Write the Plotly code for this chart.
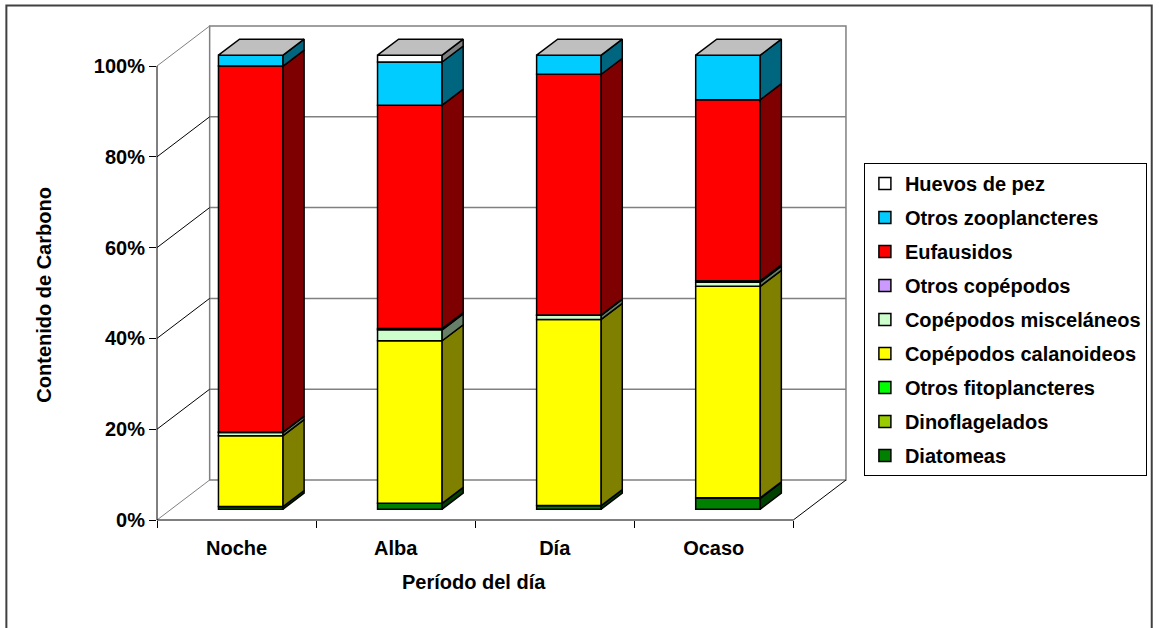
import plotly.graph_objects as go

# --- data: carbon content share (%) by time of day ---
periodos = ["Noche", "Alba", "Día", "Ocaso"]

grupos = [
    "Diatomeas",
    "Dinoflagelados",
    "Otros fitoplancteres",
    "Copépodos calanoideos",
    "Copépodos misceláneos",
    "Otros copépodos",
    "Eufausidos",
    "Otros zooplancteres",
    "Huevos de pez",
]

diatomeas = [0.6, 1.3, 0.8, 2.4]
dinoflagelados = [0.0, 0.0, 0.0, 0.1]
otros_fito = [0.0, 0.0, 0.0, 0.0]
calanoideos = [15.6, 35.8, 41.0, 46.6]
miscelaneos = [0.7, 2.4, 0.9, 0.9]
otros_copepodos = [0.1, 0.3, 0.1, 0.3]
eufausidos = [80.6, 49.2, 53.0, 39.9]
otros_zoo = [2.4, 9.5, 4.2, 9.8]
huevos = [0.0, 1.5, 0.0, 0.0]

series = [diatomeas, dinoflagelados, otros_fito, calanoideos, miscelaneos,
          otros_copepodos, eufausidos, otros_zoo, huevos]

colores = ["#008000", "#99CC00", "#00FF00", "#FFFF00", "#CCFFCC",
           "#CC99FF", "#FF0000", "#00CCFF", "#FFFFFF"]

y_ticks = [0, 20, 40, 60, 80, 100]
y_tick_text = ["0%", "20%", "40%", "60%", "80%", "100%"]

# --- layout geometry ---
W, H = 1159, 628
M_L, M_R, M_T, M_B = 157, 308, 24, 108
PLOT_W = W - M_L - M_R
PLOT_H = H - M_T - M_B
PX_PER_CAT = 160.0
PX_PER_PCT = 4.54
X_RANGE = [-0.5, -0.5 + PLOT_W / PX_PER_CAT]
Y_RANGE = [0.0, PLOT_H / PX_PER_PCT]

# oblique depth of the 3D box (full depth) and of the bars
DX, DY = 0.331, 8.81
BAR_D0 = 0.27          # bar front plane depth fraction
BAR_DEPTH = 0.40       # bar depth fraction
BAR_W = 0.406
bx0, by0 = BAR_D0 * DX, BAR_D0 * DY
sdx, sdy = BAR_DEPTH * DX, BAR_DEPTH * DY

FONT = "Liberation Sans, Arial, sans-serif"


def shade(hex_color, k):
    h = hex_color.lstrip("#")
    r, g, b = (int(h[i:i + 2], 16) for i in (0, 2, 4))
    return "#%02X%02X%02X" % (int(r * k), int(g * k), int(b * k))


def px_(x):
    return (x - X_RANGE[0]) / (X_RANGE[1] - X_RANGE[0])


def py_(y):
    return (y - Y_RANGE[0]) / (Y_RANGE[1] - Y_RANGE[0])


def paper_path(pts, close=True):
    s = "M" + " L".join(f"{px_(x):.5f},{py_(y):.5f}" for x, y in pts)
    return s + (" Z" if close else "")


fig = go.Figure()

xpos = list(range(len(periodos)))
centers = [i + bx0 for i in xpos]

# cumulative bases
bases = []
acc = [0.0] * len(periodos)
for vals in series:
    bases.append(list(acc))
    acc = [a + v for a, v in zip(acc, vals)]
totales = acc

# front faces of the stacked bars (legend lists the top series first)
n_series = len(grupos)
for idx, (name, vals, base, col) in enumerate(zip(grupos, series, bases, colores)):
    fig.add_trace(go.Bar(
        x=centers, y=vals, base=[b + by0 for b in base], width=BAR_W,
        name=name, legendgroup=name, legendrank=n_series - idx,
        marker=dict(color=col, line=dict(color="black", width=1.5)),
        hoverinfo="skip",
    ))

# right side faces of every segment
for name, vals, base, col in zip(grupos, series, bases, colores):
    xs, ys = [], []
    for c, v, b in zip(centers, vals, base):
        if v <= 0:
            continue
        xr = c + BAR_W / 2
        bot, top = b + by0, b + v + by0
        xs += [xr, xr + sdx, xr + sdx, xr, xr, None]
        ys += [bot, bot + sdy, top + sdy, top, bot, None]
    if xs:
        fig.add_trace(go.Scatter(
            x=xs, y=ys, mode="lines", fill="toself", fillcolor=shade(col, 0.5),
            line=dict(color="black", width=1.5), showlegend=False,
            hoverinfo="skip",
        ))

# top faces (shaded from the top series colour)
xs, ys = [], []
for c, t in zip(centers, totales):
    xl, xr = c - BAR_W / 2, c + BAR_W / 2
    top = t + by0
    xs += [xl, xl + sdx, xr + sdx, xr, xl, None]
    ys += [top, top + sdy, top + sdy, top, top, None]
fig.add_trace(go.Scatter(
    x=xs, y=ys, mode="lines", fill="toself", fillcolor=shade(colores[-1], 0.75),
    line=dict(color="black", width=1.5), showlegend=False, hoverinfo="skip",
))

# --- 3D walls and floor ---
x0, x1 = -0.5, len(periodos) - 0.5
grid = "#808080"
shapes = []
# back wall
shapes.append(dict(type="path", xref="paper", yref="paper", layer="below",
                   path=paper_path([(x0 + DX, DY), (x1 + DX, DY),
                                    (x1 + DX, 100 + DY), (x0 + DX, 100 + DY)]),
                   fillcolor="white", line=dict(color=grid, width=1.5)))
for k in y_ticks[1:-1]:
    shapes.append(dict(type="path", xref="paper", yref="paper", layer="below",
                       path=paper_path([(x0 + DX, k + DY), (x1 + DX, k + DY)], False),
                       line=dict(color=grid, width=1.5)))
# side wall diagonals
for k in y_ticks:
    col = grid if k in (0, 100) else "black"
    shapes.append(dict(type="path", xref="paper", yref="paper", layer="below",
                       path=paper_path([(x0, k), (x0 + DX, k + DY)], False),
                       line=dict(color=col, width=1)))
# floor right edge and front edge, value axis line
shapes.append(dict(type="path", xref="paper", yref="paper", layer="below",
                   path=paper_path([(x0, 0), (x1, 0), (x1 + DX, DY)], False),
                   line=dict(color="black", width=1)))
shapes.append(dict(type="path", xref="paper", yref="paper", layer="below",
                   path=paper_path([(x0, 0), (x0, 100)], False),
                   line=dict(color="black", width=1)))
# chart frame
shapes.append(dict(type="rect", xref="paper", yref="paper", layer="below",
                   x0=(5.5 - M_L) / PLOT_W, x1=(1157.5 - M_L) / PLOT_W,
                   y0=-0.4, y1=(H - M_B - 5.5) / PLOT_H,
                   line=dict(color="#404040", width=2), fillcolor="rgba(0,0,0,0)"))

fig.update_layout(
    width=W, height=H,
    margin=dict(l=M_L, r=M_R, t=M_T, b=M_B, pad=0),
    paper_bgcolor="white", plot_bgcolor="rgba(0,0,0,0)",
    barmode="overlay",
    shapes=shapes,
    showlegend=True,
    legend=dict(
        x=(868 - M_L) / PLOT_W, y=(H - M_B - 163) / PLOT_H,
        xanchor="left", yanchor="top",
        traceorder="grouped", tracegroupgap=5,
        bordercolor="black", borderwidth=1, bgcolor="white",
        font=dict(family=FONT, size=20, color="black", weight="bold"),
    ),
    xaxis=dict(
        range=X_RANGE, showgrid=False, zeroline=False, showline=False,
        tickmode="array", tickvals=xpos, ticktext=periodos, ticks="",
        ticklabelstandoff=14,
        tickfont=dict(family=FONT, size=20, color="black", weight="bold"),
        minor=dict(tickmode="array", tickvals=[i - 0.5 for i in range(len(periodos) + 1)],
                   ticks="outside", ticklen=7, tickcolor="black", tickwidth=1,
                   showgrid=False),
        fixedrange=True,
    ),
    yaxis=dict(
        range=Y_RANGE, showgrid=False, zeroline=False, showline=False,
        tickmode="array", tickvals=y_ticks, ticktext=y_tick_text,
        ticks="outside", ticklen=7, tickcolor="black", tickwidth=1,
        tickfont=dict(family=FONT, size=20, color="black", weight="bold"),
        fixedrange=True,
    ),
    annotations=[
        dict(text="Período del día", xref="paper", yref="paper",
             x=(476 - M_L) / PLOT_W, y=(H - M_B - 582) / PLOT_H,
             xanchor="center", yanchor="middle", showarrow=False,
             font=dict(family=FONT, size=20, color="black", weight="bold")),
        dict(text="Contenido de Carbono", xref="paper", yref="paper",
             x=(43 - M_L) / PLOT_W, y=(H - M_B - 295) / PLOT_H,
             xanchor="center", yanchor="middle", showarrow=False, textangle=-90,
             font=dict(family=FONT, size=20, color="black", weight="bold")),
    ],
)

fig.write_html("out.html")
